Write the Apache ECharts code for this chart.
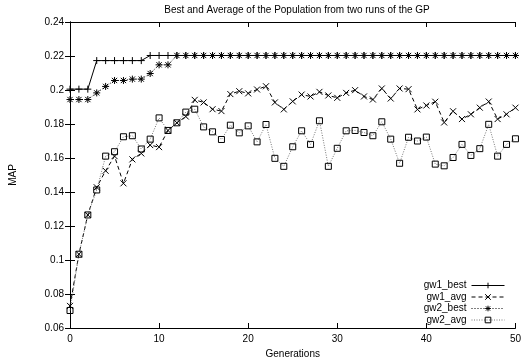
<!DOCTYPE html>
<html>
<head>
<meta charset="UTF-8">
<title>Best and Average of the Population</title>
<style type="text/css">
	html, body { margin: 0; padding: 0; background: #fff; }
	#chart { width: 524px; height: 364px; }
</style>
<script type="text/javascript" src="https://cdn.jsdelivr.net/npm/echarts@6/dist/echarts.min.js"></script>
</head>
<body>
<div id="chart"></div>
<script type="text/javascript">
	// generations on the x axis
	var generations = [0,1,2,3,4,5,6,7,8,9,10,11,12,13,14,15,16,17,18,19,20,21,22,23,24,25,
		26,27,28,29,30,31,32,33,34,35,36,37,38,39,40,41,42,43,44,45,46,47,48,49,50];

	// values
	var gw1Best = [0.2005,0.2005,0.2005,0.2173,0.2173,0.2173,0.2173,0.2173,0.2173,0.2203,
		0.2203,0.2203,0.2203,0.2203,0.2203,0.2203,0.2203,0.2203,0.2203,0.2203,0.2203,0.2203,
		0.2203,0.2203,0.2203,0.2203,0.2203,0.2203,0.2203,0.2203,0.2203,0.2203,0.2203,0.2203,
		0.2203,0.2203,0.2203,0.2203,0.2203,0.2203,0.2203,0.2203,0.2203,0.2203,0.2203,0.2203,
		0.2203,0.2203,0.2203,0.2203,0.2203];
	var gw1Avg = [0.073,0.1034,0.1265,0.1428,0.1525,0.1611,0.1451,0.1592,0.1627,0.1676,
		0.1664,0.1762,0.1807,0.1844,0.1942,0.1927,0.1887,0.1876,0.1976,0.1993,
		0.198,0.2003,0.2022,0.1927,0.1886,0.1933,0.1973,0.1962,0.1989,0.1968,
		0.1954,0.1983,0.1999,0.1962,0.1944,0.2009,0.195,0.2009,0.2005,0.1886,
		0.1909,0.1931,0.1809,0.1875,0.1829,0.1857,0.1896,0.1932,0.1829,0.1857,0.1896];
	var gw2Best = [0.1944,0.1944,0.1944,0.1983,0.2021,0.2056,0.2056,0.2064,0.2064,0.2097,
		0.2148,0.2148,0.2203,0.2203,0.2203,0.2203,0.2203,0.2203,0.2203,0.2203,0.2203,0.2203,
		0.2203,0.2203,0.2203,0.2203,0.2203,0.2203,0.2203,0.2203,0.2203,0.2203,0.2203,0.2203,
		0.2203,0.2203,0.2203,0.2203,0.2203,0.2203,0.2203,0.2203,0.2203,0.2203,0.2203,0.2203,
		0.2203,0.2203,0.2203,0.2203,0.2203];
	var gw2Avg = [0.0703,0.1034,0.1265,0.1412,0.1611,0.1637,0.1725,0.1731,0.1653,0.1711,
		0.1836,0.1762,0.1807,0.187,0.1887,0.1783,0.1754,0.1709,0.1793,0.1748,
		0.1789,0.1695,0.1797,0.1598,0.1551,0.1666,0.176,0.168,0.1819,0.1551,
		0.1657,0.176,0.1762,0.175,0.1731,0.1813,0.1711,0.1569,0.1722,0.17,
		0.1723,0.1564,0.1554,0.1603,0.168,0.1615,0.1655,0.1798,0.1611,0.168,0.1713];

	var seriesNames = ['gw1_best', 'gw1_avg', 'gw2_best', 'gw2_avg'];

	var FONT = 'Liberation Sans, Arial, sans-serif';

	function pairs(arr) {
		return generations.map(function (g, i) { return [g, arr[i]]; });
	}

	// gnuplot-like point types
	var PLUS = 'path://M0,4L8,4M4,0L4,8';
	var CROSS = 'path://M0,0L8,8M0,8L8,0';
	var STAR = 'path://M0,4L8,4M4,0L4,8M1,1L7,7M1,7L7,1';

	function axisCommon(showLabel) {
		return {
			axisLine: { show: true, lineStyle: { color: '#000', width: 1 } },
			axisTick: { show: true, inside: true, length: 5, lineStyle: { color: '#000' } },
			axisLabel: { show: showLabel, color: '#000', fontSize: 10, fontFamily: FONT },
			splitLine: { show: false }
		};
	}

	var xBottom = axisCommon(true);
	xBottom.type = 'value'; xBottom.min = 0; xBottom.max = 50; xBottom.interval = 10;
	xBottom.position = 'bottom';
	xBottom.axisLabel.margin = 6;
	xBottom.name = 'Generations'; xBottom.nameLocation = 'middle'; xBottom.nameGap = 20;
	xBottom.nameTextStyle = { color: '#000', fontSize: 10, fontFamily: FONT };

	var xTop = axisCommon(false);
	xTop.type = 'value'; xTop.min = 0; xTop.max = 50; xTop.interval = 10; xTop.position = 'top';

	var yLeft = axisCommon(true);
	yLeft.type = 'value'; yLeft.min = 0.06; yLeft.max = 0.24; yLeft.interval = 0.02;
	yLeft.position = 'left';
	yLeft.axisLabel.margin = 6;
	yLeft.name = 'MAP'; yLeft.nameLocation = 'middle'; yLeft.nameGap = 52;
	yLeft.nameTextStyle = { color: '#000', fontSize: 10, fontFamily: FONT };

	var yRight = axisCommon(false);
	yRight.type = 'value'; yRight.min = 0.06; yRight.max = 0.24; yRight.interval = 0.02;
	yRight.position = 'right';

	var mychar = echarts.init(document.getElementById('chart'));

	var option = {
		animation: false,
		backgroundColor: '#fff',
		title: {
			text: 'Best and Average of the Population from two runs of the GP',
			left: 292,
			textAlign: 'center',
			top: 0,
			textStyle: { color: '#000', fontSize: 10, fontWeight: 'normal', fontFamily: FONT }
		},
		grid: { left: 67, right: 7, top: 22, bottom: 36 },
		legend: {
			orient: 'vertical',
			align: 'right',
			right: 19,
			top: 280,
			padding: 0,
			itemWidth: 33,
			itemHeight: 7,
			itemGap: 0.5,
			data: seriesNames,
			lineStyle: { width: 1 },
			itemStyle: { borderWidth: 1 },
			textStyle: { color: '#000', fontSize: 10, fontFamily: FONT, lineHeight: 11 }
		},
		xAxis: [xBottom, xTop],
		yAxis: [yLeft, yRight],
		series: [
			{
				name: seriesNames[0], type: 'line', data: pairs(gw1Best),
				symbol: PLUS, symbolSize: 7, showAllSymbol: true,
				lineStyle: { color: '#000', width: 1, type: 'solid' },
				itemStyle: { color: 'transparent', borderColor: '#000', borderWidth: 1 }
			},
			{
				name: seriesNames[1], type: 'line', data: pairs(gw1Avg),
				symbol: CROSS, symbolSize: 6, showAllSymbol: true,
				lineStyle: { color: '#000', width: 1, type: [4, 3] },
				itemStyle: { color: 'transparent', borderColor: '#000', borderWidth: 1 }
			},
			{
				name: seriesNames[2], type: 'line', data: pairs(gw2Best),
				symbol: STAR, symbolSize: 7, showAllSymbol: true,
				lineStyle: { color: '#000', width: 1, type: [1, 2] },
				itemStyle: { color: 'transparent', borderColor: '#000', borderWidth: 1 }
			},
			{
				name: seriesNames[3], type: 'line', data: pairs(gw2Avg),
				symbol: 'rect', symbolSize: 6, showAllSymbol: true,
				lineStyle: { color: '#777', width: 1, type: [1, 1.5] },
				itemStyle: { color: 'transparent', borderColor: '#000', borderWidth: 1 }
			}
		]
	};

	mychar.setOption(option);
</script>
</body>
</html>
